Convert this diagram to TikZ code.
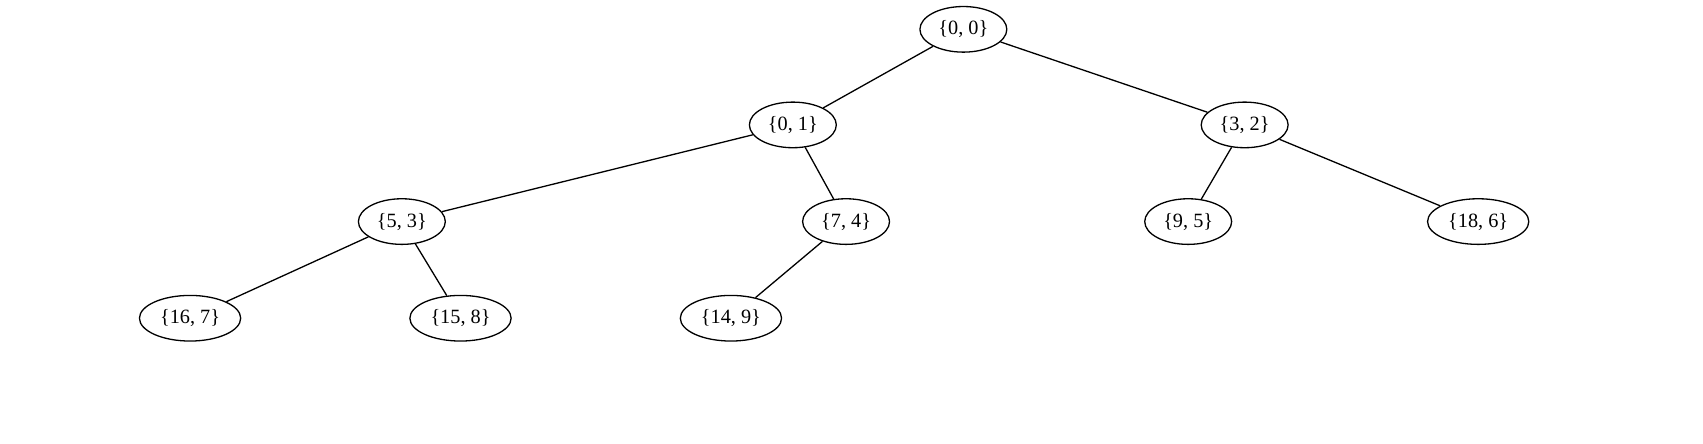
\documentclass[tikz,border=0pt]{standalone}
\usepackage{fontspec}
\setmainfont{Liberation Serif}
\usetikzlibrary{shapes.geometric}
\begin{document}
\begin{tikzpicture}[x=0.75pt,y=-0.75pt,line width=0.9pt,
  pair/.style={draw,ellipse,minimum width=60pt,minimum height=31.5pt,
    inner xsep=4pt,inner ysep=0pt,font=\fontsize{14pt}{16pt}\selectfont}]
  \useasboundingbox (0,0) rectangle (1568,408);

  % draw nodes
  \node[pair] (n00) at (887,27) {\{0, 0\}};
  \node[pair] (n01) at (730,115) {\{0, 1\}};
  \node[pair] (n32) at (1146,115) {\{3, 2\}};
  \node[pair] (n53) at (370,204) {\{5, 3\}};
  \node[pair] (n74) at (779,204) {\{7, 4\}};
  \node[pair] (n95) at (1094,204) {\{9, 5\}};
  \node[pair] (n186) at (1361,204) {\{18, 6\}};
  \node[pair] (n167) at (175,293) {\{16, 7\}};
  \node[pair] (n158) at (424,293) {\{15, 8\}};
  \node[pair] (n149) at (673,293) {\{14, 9\}};

  % draw edges
  \foreach \a/\b in {n00/n01,n00/n32,n01/n53,n01/n74,n32/n95,n32/n186,n53/n167,n53/n158,n74/n149}
    \draw (\a) -- (\b);
\end{tikzpicture}
\end{document}
